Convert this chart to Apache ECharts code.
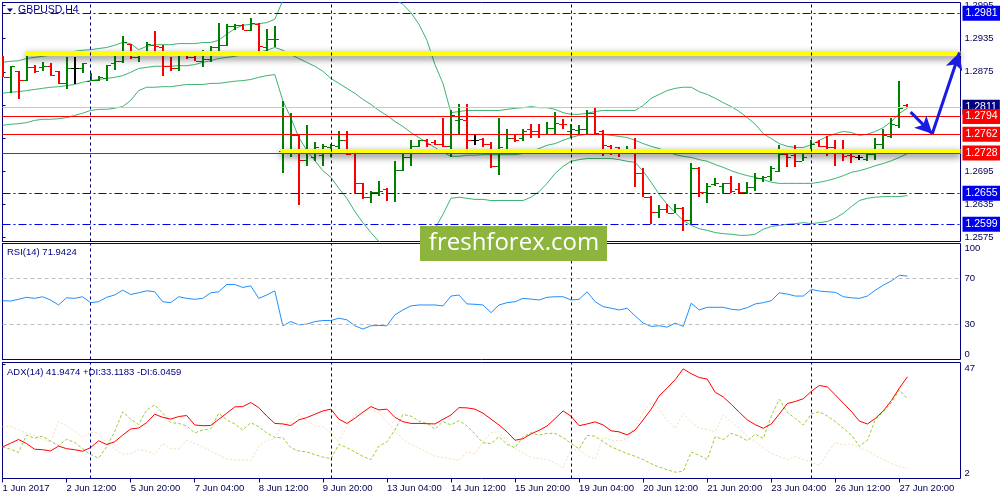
<!DOCTYPE html>
<html><head><meta charset="utf-8">
<script src="https://cdn.jsdelivr.net/npm/echarts@6/dist/echarts.min.js"></script>
<style>html,body{margin:0;padding:0;background:#fff}#c{width:1000px;height:500px}</style>
</head><body><div id="c"></div>
<script>
// ---------- data ----------
const timeLabels = ['1 Jun 2017','2 Jun 12:00','5 Jun 20:00','7 Jun 04:00','8 Jun 12:00','9 Jun 20:00','13 Jun 04:00','14 Jun 12:00','15 Jun 20:00','19 Jun 04:00','20 Jun 12:00','21 Jun 20:00','23 Jun 04:00','26 Jun 12:00','27 Jun 20:00'];
const labelBars = [0,8,16,24,32,40,48,56,64,72,80,88,96,104,112];
const separatorBars = [11,41,71,101];

const opens = [1.2892,1.2865,1.2876,1.2861,1.2883,1.2883,1.2885,1.2876,1.2854,1.2881,
1.2881,1.2859,1.2861,1.2863,1.2890,1.2894,1.2926,1.2901,1.2910,1.2924,
1.2919,1.2885,1.2881,1.2908,1.2901,1.2895,1.2899,1.2919,1.2924,1.2957,
1.2959,1.2950,1.2962,1.2919,1.2934,1.2731,1.2733,1.2760,1.2716,1.2720,
1.2724,1.2738,1.2740,1.2751,1.2729,1.2673,1.2648,1.2657,1.2662,1.2655,
1.2698,1.2720,1.2740,1.2751,1.2747,1.2745,1.2740,1.2787,1.2787,1.2751,
1.2754,1.2745,1.2704,1.2736,1.2756,1.2756,1.2771,1.2767,1.2763,1.2774,
1.2781,1.2767,1.2769,1.2771,1.2800,1.2767,1.2740,1.2738,1.2733,1.2736,
1.2691,1.2649,1.2622,1.2626,1.2620,1.2629,1.2606,1.2700,1.2657,1.2671,
1.2669,1.2673,1.2662,1.2658,1.2666,1.2682,1.2686,1.2696,1.2727,1.2724,
1.2714,1.2729,1.2747,1.2740,1.2738,1.2736,1.2724,1.2720,1.2718,1.2727,
1.2745,1.2758,1.2778,1.2814];
const highs = [1.2903,1.2886,1.2877,1.2910,1.2888,1.2892,1.2890,1.2877,1.2901,1.2901,
1.2890,1.2872,1.2868,1.2888,1.2906,1.2939,1.2926,1.2910,1.2928,1.2948,
1.2923,1.2901,1.2908,1.2910,1.2903,1.2915,1.2921,1.2964,1.2962,1.2962,
1.2962,1.2973,1.2964,1.2952,1.2957,1.2823,1.2800,1.2760,1.2778,1.2747,
1.2745,1.2745,1.2767,1.2767,1.2731,1.2673,1.2660,1.2678,1.2664,1.2714,
1.2736,1.2752,1.2752,1.2754,1.2751,1.2792,1.2805,1.2816,1.2816,1.2760,
1.2756,1.2747,1.2792,1.2772,1.2763,1.2772,1.2781,1.2780,1.2785,1.2803,
1.2790,1.2781,1.2778,1.2805,1.2812,1.2769,1.2742,1.2738,1.2740,1.2756,
1.2700,1.2651,1.2633,1.2635,1.2635,1.2631,1.2709,1.2702,1.2673,1.2682,
1.2673,1.2687,1.2673,1.2675,1.2691,1.2687,1.2704,1.2742,1.2733,1.2742,
1.2729,1.2751,1.2751,1.2758,1.2751,1.2751,1.2729,1.2724,1.2727,1.2756,
1.2771,1.2792,1.2859,1.2816];
const lows = [1.2865,1.2836,1.2825,1.2859,1.2872,1.2877,1.2867,1.2852,1.2843,1.2852,
1.2872,1.2858,1.2858,1.2859,1.2879,1.2890,1.2899,1.2892,1.2908,1.2905,
1.2868,1.2876,1.2877,1.2899,1.2894,1.2883,1.2892,1.2905,1.2921,1.2950,
1.2950,1.2948,1.2912,1.2905,1.2919,1.2691,1.2720,1.2633,1.2704,1.2714,
1.2704,1.2720,1.2736,1.2725,1.2655,1.2644,1.2637,1.2651,1.2642,1.2639,
1.2695,1.2705,1.2738,1.2738,1.2742,1.2738,1.2720,1.2760,1.2727,1.2742,
1.2738,1.2700,1.2689,1.2729,1.2747,1.2749,1.2756,1.2756,1.2760,1.2760,
1.2772,1.2756,1.2762,1.2763,1.2763,1.2722,1.2724,1.2720,1.2727,1.2666,
1.2648,1.2600,1.2611,1.2619,1.2619,1.2586,1.2600,1.2648,1.2637,1.2669,
1.2655,1.2655,1.2653,1.2653,1.2660,1.2675,1.2678,1.2693,1.2702,1.2702,
1.2713,1.2727,1.2738,1.2722,1.2705,1.2714,1.2709,1.2716,1.2714,1.2716,
1.2733,1.2756,1.2774,1.2810];
const closes = [1.2865,1.2885,1.2861,1.2883,1.2877,1.2885,1.2870,1.2854,1.2881,1.2881,
1.2890,1.2861,1.2865,1.2888,1.2895,1.2928,1.2901,1.2910,1.2926,1.2921,
1.2885,1.2881,1.2908,1.2901,1.2895,1.2899,1.2919,1.2924,1.2957,1.2959,
1.2950,1.2964,1.2921,1.2934,1.2935,1.2733,1.2760,1.2716,1.2729,1.2738,
1.2740,1.2742,1.2752,1.2727,1.2673,1.2648,1.2657,1.2660,1.2655,1.2698,
1.2720,1.2740,1.2751,1.2745,1.2745,1.2740,1.2796,1.2789,1.2751,1.2751,
1.2745,1.2704,1.2738,1.2756,1.2752,1.2767,1.2767,1.2763,1.2774,1.2783,
1.2780,1.2771,1.2771,1.2801,1.2765,1.2742,1.2733,1.2731,1.2736,1.2691,
1.2649,1.2622,1.2626,1.2620,1.2629,1.2606,1.2700,1.2657,1.2669,1.2673,
1.2673,1.2660,1.2658,1.2666,1.2682,1.2684,1.2700,1.2727,1.2720,1.2714,
1.2720,1.2745,1.2740,1.2738,1.2736,1.2722,1.2722,1.2720,1.2727,1.2745,
1.2760,1.2780,1.2810,1.2811];

const bbUpper = [1.2892,1.2894,1.2895,1.2899,1.2901,1.2903,1.2905,1.2906,1.2910,1.2912,
1.2914,1.2915,1.2917,1.2919,1.2923,1.2928,1.2926,1.2915,1.2921,1.2924,
1.2924,1.2924,1.2926,1.2926,1.2926,1.2928,1.2928,1.2932,1.2943,1.2953,
1.2959,1.2961,1.2962,1.2964,1.2970,1.3004,1.3022,1.3037,1.3048,1.3053,
1.3055,1.3055,1.3053,1.3051,1.3048,1.3040,1.3033,1.3024,1.3015,1.3006,
1.2997,1.2982,1.2961,1.2932,1.2888,1.2854,1.2801,1.2803,1.2805,1.2805,
1.2805,1.2805,1.2805,1.2807,1.2809,1.2810,1.2812,1.2810,1.2810,1.2807,
1.2801,1.2798,1.2798,1.2800,1.2803,1.2805,1.2805,1.2805,1.2805,1.2805,
1.2814,1.2827,1.2834,1.2841,1.2845,1.2847,1.2847,1.2839,1.2834,1.2827,
1.2819,1.2812,1.2803,1.2792,1.2780,1.2763,1.2754,1.2745,1.2740,1.2738,
1.2738,1.2743,1.2751,1.2758,1.2763,1.2767,1.2765,1.2760,1.2762,1.2767,
1.2774,1.2785,1.2800,1.2809];
const bbMiddle = [1.2836,1.2838,1.2839,1.2841,1.2843,1.2845,1.2847,1.2848,1.2850,1.2852,
1.2856,1.2859,1.2861,1.2863,1.2865,1.2868,1.2874,1.2881,1.2883,1.2885,
1.2885,1.2885,1.2886,1.2886,1.2888,1.2892,1.2895,1.2899,1.2901,1.2903,
1.2906,1.2908,1.2910,1.2914,1.2919,1.2914,1.2906,1.2899,1.2892,1.2885,
1.2876,1.2863,1.2854,1.2845,1.2836,1.2825,1.2816,1.2805,1.2796,1.2785,
1.2776,1.2765,1.2756,1.2747,1.2738,1.2729,1.2722,1.2722,1.2724,1.2724,
1.2725,1.2725,1.2725,1.2725,1.2725,1.2727,1.2731,1.2736,1.2742,1.2745,
1.2751,1.2756,1.2760,1.2762,1.2762,1.2762,1.2760,1.2758,1.2756,1.2751,
1.2745,1.2740,1.2736,1.2731,1.2725,1.2722,1.2720,1.2716,1.2713,1.2707,
1.2702,1.2696,1.2691,1.2687,1.2684,1.2680,1.2675,1.2673,1.2673,1.2673,
1.2673,1.2673,1.2675,1.2678,1.2682,1.2687,1.2693,1.2696,1.2700,1.2705,
1.2709,1.2714,1.2720,1.2727];
const bbLower = [1.2778,1.2780,1.2781,1.2783,1.2787,1.2789,1.2789,1.2790,1.2792,1.2796,
1.2800,1.2805,1.2807,1.2807,1.2809,1.2812,1.2823,1.2841,1.2847,1.2847,
1.2848,1.2848,1.2850,1.2852,1.2852,1.2852,1.2854,1.2854,1.2856,1.2858,
1.2859,1.2861,1.2865,1.2868,1.2870,1.2823,1.2792,1.2756,1.2733,1.2714,
1.2696,1.2684,1.2664,1.2646,1.2622,1.2602,1.2584,1.2568,1.2555,1.2546,
1.2543,1.2548,1.2559,1.2573,1.2591,1.2617,1.2646,1.2648,1.2646,1.2644,
1.2644,1.2642,1.2642,1.2642,1.2642,1.2642,1.2648,1.2658,1.2673,1.2691,
1.2704,1.2713,1.2716,1.2718,1.2718,1.2718,1.2718,1.2716,1.2713,1.2711,
1.2695,1.2675,1.2653,1.2635,1.2620,1.2606,1.2597,1.2591,1.2588,1.2584,
1.2582,1.2581,1.2579,1.2579,1.2581,1.2590,1.2595,1.2597,1.2599,1.2600,
1.2602,1.2600,1.2602,1.2604,1.2610,1.2619,1.2631,1.2642,1.2646,1.2648,
1.2649,1.2649,1.2649,1.2651];

const rsi = [50.7,50.4,51.9,53.6,52.7,54.1,51.3,47.0,53.2,52.7,
54.1,49.0,49.8,53.6,55.6,59.8,56.1,57.5,59.2,58.4,
49.8,49.0,54.1,52.7,51.9,52.7,57.5,58.4,64.7,64.7,
62.1,63.5,52.7,55.6,59.2,29.1,32.7,29.9,30.5,32.7,
33.6,33.6,35.6,34.2,29.1,26.2,29.1,29.3,29.1,38.5,
42.7,46.2,47.0,47.0,47.0,46.2,54.7,55.6,47.9,47.6,
47.0,40.4,47.0,49.0,49.8,52.7,52.1,51.3,53.6,54.1,
54.1,51.3,51.9,58.4,49.8,45.6,44.2,42.7,44.2,37.6,
31.4,28.5,29.1,27.9,31.4,28.5,48.5,42.7,45.0,45.0,
45.0,43.3,42.7,44.7,47.9,49.0,50.7,57.5,56.4,54.7,
54.7,60.4,59.0,58.4,57.9,54.1,53.2,52.7,54.7,59.8,
64.1,67.8,72.6,71.9];
const rsiLevels = [30, 70];

const adx = [14.4,15.8,17.3,15.7,13.5,13.3,12.8,14.7,13.7,13.3,
12.7,14.1,16.8,15.3,16.4,19.0,21.4,21.8,23.9,27.2,
26.0,25.3,26.3,26.7,23.0,22.7,22.8,25.2,27.6,30.1,
30.2,31.8,29.8,26.5,23.6,23.4,22.8,25.0,25.9,27.2,
28.5,29.2,25.3,23.6,25.6,28.0,30.2,28.9,29.2,26.0,
24.3,23.6,23.6,23.5,23.4,25.2,26.9,29.8,29.7,29.2,
27.6,25.3,23.0,20.3,17.0,17.6,19.5,20.9,22.6,25.5,
28.5,26.4,22.7,23.4,24.2,23.0,20.7,20.3,19.1,21.0,
25.0,29.2,34.4,37.5,40.8,45.0,43.1,41.6,41.0,35.8,
34.0,31.1,28.0,25.0,23.1,21.7,23.4,27.3,31.4,32.2,
33.3,36.2,38.5,37.9,34.8,31.5,28.3,24.5,23.4,25.6,
28.6,32.6,37.5,41.9];
const plusDI = [14.4,13.5,12.2,19.0,17.8,18.6,16.6,14.9,17.4,16.2,
13.7,11.4,10.0,14.4,20.3,28.2,25.2,23.2,28.9,30.9,
27.6,23.9,23.6,22.6,19.9,21.0,21.5,27.6,25.0,23.4,
21.0,23.9,22.3,19.9,18.1,18.0,14.1,12.8,12.4,11.4,
10.4,9.8,15.4,14.1,12.4,10.7,9.4,14.7,16.4,21.0,
27.1,26.5,24.5,23.6,21.4,24.3,23.0,24.7,22.6,19.4,
16.0,15.7,18.4,15.4,14.1,18.4,19.9,19.0,19.7,19.7,
18.1,15.7,13.6,18.9,18.6,16.5,14.4,13.1,11.8,10.7,
9.4,7.8,6.5,5.4,4.5,4.8,12.4,11.1,9.4,18.4,
17.3,19.7,18.6,16.8,19.4,17.7,26.5,33.1,27.9,25.6,
23.0,27.3,28.2,26.5,24.3,21.7,19.0,14.7,17.0,25.2,
28.2,31.8,36.8,33.1];
const minusDI = [22.3,22.4,21.1,19.8,19.0,17.4,16.2,24.3,22.7,20.5,
18.1,20.1,19.9,15.7,13.7,11.5,11.8,13.3,12.8,11.5,
15.7,13.7,13.6,17.0,15.7,14.4,12.8,11.1,9.8,9.1,
9.4,9.1,14.7,17.0,17.6,23.6,24.0,27.3,24.7,22.6,
22.3,19.9,16.8,22.3,26.9,28.4,28.9,27.9,24.2,20.7,
17.3,15.4,14.0,12.3,10.7,10.2,9.8,9.1,12.4,11.8,
16.4,19.9,20.5,16.4,13.7,12.0,10.3,9.8,9.5,8.1,
6.2,13.5,13.1,11.1,9.6,18.1,17.0,16.8,17.6,22.3,
27.9,32.1,29.2,24.9,21.7,27.6,24.2,21.7,21.3,20.3,
26.9,24.2,21.7,18.5,16.4,14.0,11.8,10.6,9.4,10.6,
9.4,8.5,7.1,11.8,16.2,15.1,15.7,14.1,12.8,11.1,
9.4,7.8,6.7,6.0];

const priceTicks = [1.2575,1.2635,1.2695,1.2755,1.2815,1.2875,1.2935,1.2995];
const rsiTicks = [0,30,70,100];
const adxTicks = [2,47];
const redLevels = [1.2794,1.2762,1.2728];
const blueLevels = [1.2981,1.2655,1.2599];
const currentPrice = 1.2811;
const yellowLines = [[2.9,1.2908],[34.7,1.2731]];   // [start bar, price]
const arrowPath = [[113.4,1.2802],[116.1,1.2763],[119.5,1.2910]];

const titleText = 'GBPUSD,H4';
const rsiText = 'RSI(14) 71.9424';
const adxText = 'ADX(14) 41.9474 +DI:33.1183 -DI:6.0459';
const watermarkText = 'freshforex.com';

// ---------- chart ----------
const XMAX = 119.625;
const NAVY = '#000080';
const FONT = '"Liberation Sans", Arial, sans-serif';
const UP = '#008000', DOWN = '#ff0000', DOJI = '#000000';
const BANDC = '#3cb371';

const bars = opens.map((o,i)=>[i,o,highs[i],lows[i],closes[i]]);
const idx = a => a.map((v,i)=>[i,v]);

function renderBar(params, api){
  const i = api.value(0), o = api.value(1), h = api.value(2), l = api.value(3), c = api.value(4);
  const ph = api.coord([i,h]), pl = api.coord([i,l]), po = api.coord([i,o]), pc = api.coord([i,c]);
  const color = c > o ? UP : (c < o ? DOWN : DOJI);
  const x = Math.round(ph[0]);
  const yh = Math.round(ph[1]), yl = Math.round(pl[1]);
  const yo = Math.round(po[1]), yc = Math.round(pc[1]);
  return {type:'group', children:[
    {type:'rect', shape:{x:x-1, y:yh, width:2, height:Math.max(1,yl-yh)}, style:{fill:color}},
    {type:'rect', shape:{x:x-4, y:yo, width:3, height:1}, style:{fill:color}},
    {type:'rect', shape:{x:x+1, y:yc, width:3, height:1}, style:{fill:color}}
  ]};
}

function levelLabel(bg){
  return {show:true, position:'end', distance:2, formatter:p=>Number(p.value).toFixed(4),
          backgroundColor:bg, color:'#ffffff', padding:[2,3,2,3], fontSize:10.5, fontFamily:FONT};
}
const sepStyle = {color:NAVY, width:1, type:[3,3]};

const levelMarks = [];
levelMarks.push({yAxis:currentPrice, lineStyle:{color:'#c8c8c8', width:1, type:'solid'}, label:levelLabel(NAVY)});
redLevels.forEach(v=>levelMarks.push({yAxis:v, lineStyle:{color:'#ff0000', width:1, type:'solid'}, label:levelLabel('#ff0000')}));
blueLevels.forEach(v=>levelMarks.push({yAxis:v, lineStyle:{color:'#0000f0', width:1, type:[8,3,2,3]}, label:levelLabel('#0000f0')}));
separatorBars.forEach(b=>levelMarks.push({xAxis:b, lineStyle:sepStyle, label:{show:false}}));

const arrowMarks = [];
for (let k=0;k<arrowPath.length-1;k++){
  arrowMarks.push([{coord:arrowPath[k]}, {coord:arrowPath[k+1]}]);
}

const yellowMarks = yellowLines.map(([b,p])=>[
  {coord:[b,p]}, {coord:[XMAX,p]}]);

function xAxisDef(g, showLabels){
  const d = {type:'value', gridIndex:g, min:0, max:XMAX, splitLine:{show:false},
    axisLine:{show:false}, axisTick:{show:false}, axisLabel:{show:false}};
  if (showLabels){
    d.axisTick = {show:true, customValues:labelBars, length:4, lineStyle:{color:NAVY}};
    d.axisLabel = {show:true, customValues:labelBars, align:'left', margin:5, color:'#000050',
      fontSize:9.5, fontFamily:FONT, formatter:v=>timeLabels[labelBars.indexOf(v)] || ''};
  }
  return d;
}
function yAxisDef(g, min, max, ticks, fmt, alignEnds){
  return {type:'value', gridIndex:g, position:'right', min:min, max:max, scale:true,
    splitLine:{show:false},
    axisLine:{show:true, lineStyle:{color:NAVY}},
    axisTick:{show:true, customValues:ticks, length:3, lineStyle:{color:NAVY}},
    axisLabel:{show:true, customValues:ticks, margin:4, color:'#000050', fontSize:9.5, fontFamily:FONT,
      formatter:fmt,
      verticalAlignMinLabel: alignEnds ? 'bottom' : null,
      verticalAlignMaxLabel: alignEnds ? 'top' : null}};
}

const gridBase = {left:2.5, right:39.5, show:true, borderColor:NAVY, borderWidth:1, backgroundColor:'transparent', containLabel:false, outerBoundsMode:'none'};

const option = {
  animation:false,
  backgroundColor:'#ffffff',
  grid:[
    Object.assign({top:2.5, height:239}, gridBase),
    Object.assign({top:243.5, height:116}, gridBase),
    Object.assign({top:362.5, height:116}, gridBase)
  ],
  xAxis:[xAxisDef(0,false), xAxisDef(1,false), xAxisDef(2,true)],
  yAxis:[
    yAxisDef(0, 1.25678, 1.30004, priceTicks, v=>Number(v).toFixed(4), false),
    yAxisDef(1, 0, 100, rsiTicks, v=>String(v), true),
    yAxisDef(2, 2, 47.5, adxTicks, v=>String(v), true)
  ],
  series:[
    {type:'line', xAxisIndex:0, yAxisIndex:0, data:[], z:1, silent:true,
      markLine:{silent:true, symbol:'none', precision:4, animation:false, label:{show:false},
        lineStyle:{color:'#ffff00', width:5, type:'solid', shadowColor:'rgba(0,0,0,0.55)', shadowBlur:7, shadowOffsetY:3},
        data:yellowMarks}},
    {name:'BB upper', type:'line', xAxisIndex:0, yAxisIndex:0, data:idx(bbUpper), symbol:'none', z:2, silent:true, lineStyle:{color:BANDC, width:1}},
    {name:'BB middle', type:'line', xAxisIndex:0, yAxisIndex:0, data:idx(bbMiddle), symbol:'none', z:2, silent:true, lineStyle:{color:BANDC, width:1}},
    {name:'BB lower', type:'line', xAxisIndex:0, yAxisIndex:0, data:idx(bbLower), symbol:'none', z:2, silent:true, lineStyle:{color:BANDC, width:1}},
    {name:'GBPUSD', type:'custom', xAxisIndex:0, yAxisIndex:0, data:bars, encode:{x:0, y:[1,2,3,4]}, renderItem:renderBar, clip:true, z:3, silent:true},
    {type:'line', xAxisIndex:0, yAxisIndex:0, data:[], z:4, silent:true,
      markLine:{silent:true, symbol:'none', precision:4, animation:false, data:levelMarks}},
    {type:'line', xAxisIndex:0, yAxisIndex:0, data:[], z:5, silent:true,
      markLine:{silent:true, symbol:['none','arrow'], symbolSize:[13,17], precision:4, animation:false,
        label:{show:false}, lineStyle:{color:'#1a1ae0', width:3, type:'solid'}, data:arrowMarks}},
    {name:'RSI', type:'line', xAxisIndex:1, yAxisIndex:1, data:idx(rsi), symbol:'none', silent:true, z:3,
      lineStyle:{color:'#1e90ff', width:1},
      markLine:{silent:true, symbol:'none', precision:4, animation:false, label:{show:false},
        data: rsiLevels.map(v=>({yAxis:v, lineStyle:{color:'#c0c0c0', width:1, type:[4,3]}})).concat(separatorBars.map(b=>({xAxis:b, lineStyle:sepStyle})))}},
    {name:'-DI', type:'line', xAxisIndex:2, yAxisIndex:2, data:idx(minusDI), symbol:'none', silent:true, z:2,
      lineStyle:{color:'#f5deb3', width:1, type:[2,2]}},
    {name:'+DI', type:'line', xAxisIndex:2, yAxisIndex:2, data:idx(plusDI), symbol:'none', silent:true, z:2,
      lineStyle:{color:'#9acd32', width:1, type:[3,2]}},
    {name:'ADX', type:'line', xAxisIndex:2, yAxisIndex:2, data:idx(adx), symbol:'none', silent:true, z:3,
      lineStyle:{color:'#ff0000', width:1},
      markLine:{silent:true, symbol:'none', precision:4, animation:false, label:{show:false},
        data: separatorBars.map(b=>({xAxis:b, lineStyle:sepStyle}))}}
  ],
  graphic:[
    {type:'polygon', shape:{points:[[7,8.5],[13,8.5],[10,12]]}, style:{fill:NAVY}, z:10},
    {type:'text', x:18, y:10, style:{text:titleText, fill:NAVY, font:'10.5px '+FONT, verticalAlign:'middle'}, z:10},
    {type:'text', x:7, y:252, style:{text:rsiText, fill:NAVY, font:'9.5px '+FONT, verticalAlign:'middle'}, z:10},
    {type:'text', x:7, y:372, style:{text:adxText, fill:NAVY, font:'9.5px '+FONT, verticalAlign:'middle'}, z:10},
    {type:'rect', shape:{x:420, y:226, width:187, height:35}, style:{fill:'#8db53e'}, z:20},
    {type:'text', x:514, y:243, style:{text:watermarkText, fill:'#ffffff', font:'24px "Open Sans", sans-serif', align:'center', verticalAlign:'middle'}, z:21}
  ]
};
const chart = echarts.init(document.getElementById('c'), null, {renderer:'canvas'});
chart.setOption(option);
</script></body></html>
